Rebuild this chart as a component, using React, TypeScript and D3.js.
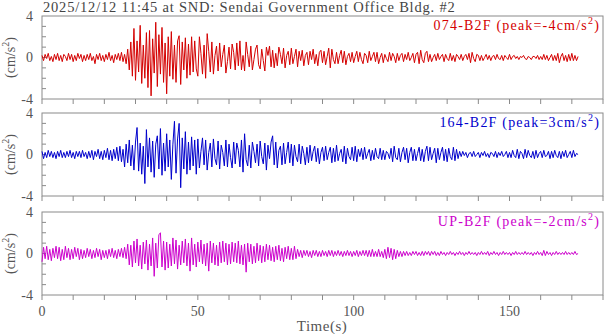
import * as d3 from "d3";

// sampling interval of the traces (s)
const dt = 0.5;

// 074-B2F, t = 0 .. 49.5 s
const ns0 = [
  0.2, -0.3, 0.3, -0.1, 0.4, -0.3, 0.1, -0.4, 0.3, -0.2,
  0.4, -0.3, 0.2, -0.4, 0.3, 0.1, -0.3, 0.4, -0.2, 0.3,
  -0.4, 0.2, -0.3, 0.4, -0.1, 0.3, -0.4, 0.2, -0.3, 0.3,
  -0.2, 0.4, -0.3, 0.1, -0.6, 0.3, -0.2, 0.4, -0.3, 0.2,
  -0.4, 0.3, -0.2, 0.5, -0.3, 0.2, -0.5, 0.3, -0.2, 0.4,
  -0.3, 0.5, -0.4, 0.3, -0.6, 0.8, -1.2, 1.5,
  -1.8, 2.8, -2.2, 1.6, -1.4, 3.1, -2.5, 1.2, -2.0, 2.4,
  -2.9, 2.6, -3.7, 1.8, -1.5, 3.4, -2.8, 2.2, -1.6, 2.9,
  -2.4, 1.4, -3.5, 2.0, -1.8, 2.5, -2.1, 1.2, -2.4, 1.6,
  2.1, -2.6, 1.5, -1.2, 1.9, -2.0, 1.3, -1.7, 2.0, -1.4,
  1.6, -1.1,
];
// 074-B2F, t = 50 .. 99.5 s
const ns1 = [
  -1.8, 2.0, 0.4, -1.6, 1.2, -2.0, 2.3, 0.6, -1.4, 1.5,
  -1.6, 0.2, 1.1, -1.3, 1.4, -0.9, 0.3, 1.2, -1.5, -0.4,
  1.0, -1.1, 1.3, 0.5, -1.2, 1.4, -0.8, 1.6, -1.2, 0.2,
  -1.3, 1.5, 0.3, -0.9, 1.1, -1.2, -0.2, 0.8, 1.2, -0.7,
  -1.1, 0.8, -0.3, -1.3, 1.0, 0.2, 1.1, -0.9, 0.7, -1.0,
  0.4, -0.8, 1.0, 0.3, -0.6, 0.9, -1.0, 0.2, 0.6, -0.7,
  0.9, -0.6, 0.1, 0.8, -0.9, 0.6, -0.3, 0.7, -0.8, 0.2,
  0.5, -0.7, 0.6, -0.2, 0.8, -0.6, 0.3, -0.8, 0.5, 0.7,
  -0.5, 0.6, -0.7, 0.1, 0.9, -1.0, 0.8, -0.2, -0.6, 0.5,
  -0.6, 0.2, 0.7, -0.5, 0.6, -0.7, 0.1, 0.4, -0.4, 0.5,
];
// 074-B2F, t = 100 .. 172 s
const ns2 = [
  -0.5, 0.1, 0.6, -0.4, 0.5, -0.2, -0.6, 0.4, 0.2, -0.5,
  0.6, -0.3, 0.1, 0.5, -0.4, 0.5, -0.6, 0.0, 0.4, -0.5,
  0.3, -0.1, -0.4, 0.5, -0.3, 0.4, 0.1, -0.5, 0.4, -0.3,
  0.2, 0.4, -0.4, 0.3, -0.2, 0.5, -0.3, 0.0, 0.4, -0.5,
  0.3, 0.5, -0.6, 0.7, -0.2, -0.5, 0.4, 0.6, -0.4, 0.3,
  -0.4, 0.0, 0.3, -0.3, 0.4, -0.2, 0.1, 0.3, -0.4, 0.3,
  -0.1, -0.3, 0.4, -0.3, 0.2, -0.4, 0.3, 0.1, -0.2, 0.3,
  -0.3, 0.1, 0.3, -0.2, 0.4, -0.5, 0.5, -0.1, -0.4, 0.3,
  0.2, -0.3, 0.2, -0.3, 0.0, 0.3, -0.2, 0.2, -0.3, 0.1,
  0.2, -0.2, 0.3, -0.1, -0.2, 0.2, -0.3, 0.2, 0.0, -0.2,
  0.3, -0.2, 0.1, 0.2, -0.1, 0.1, -0.2, 0.1, 0.0, 0.2,
  -0.1, -0.2, 0.1, 0.0, -0.2, 0.1, 0.1, -0.1, 0.2, -0.2,
  0.1, -0.2, 0.3, -0.2, 0.2, -0.3, 0.0, 0.3, -0.3, 0.2,
  -0.3, 0.4, -0.5, 0.1, 0.4, -0.3, 0.2, -0.4, 0.3, -0.3,
  0.4, -0.3, 0.2, -0.3, 0.1,
];

// 164-B2F
const ew0 = [
  0.3, -0.4, 0.2, -0.3, 0.4, -0.2, 0.3, -0.3, 0.2, -0.4,
  0.3, -0.2, 0.4, -0.3, 0.2, -0.3, 0.3, -0.2, 0.4, -0.3,
  0.2, -0.4, 0.3, -0.2, 0.3, -0.3, 0.4, -0.2, 0.2, -0.4,
  0.3, -0.3, 0.4, -0.5, 0.3, -0.2, 0.5, -0.4, 0.3, -0.5,
  0.4, -0.3, 0.6, -0.5, 0.4, -0.6, 0.5, -0.4, 0.7, -0.6,
  0.8, -0.7, 0.5, -1.2, 1.0, -0.8, 1.4, -1.1, 0.9, -1.5,
  1.2, 2.6, -1.6, 1.1, -1.9, 0.8, -2.8, 2.4, -1.2, 1.6,
  -1.7, 1.3, -2.2, 1.0, 1.8, -1.4, 2.5, -2.0, 1.1, -1.6,
  2.0, -1.2, 1.4, -2.4, 1.0, 3.2, -1.8, 1.5, 3.0, -3.2,
  1.6, -1.4, 2.2, -1.9, 1.2, -1.5, 1.7, -1.1, 1.4, -1.9,
];
const ew1 = [
  1.5, -1.3, 0.3, 1.6, -1.0, 1.4, -1.5, 0.2, 1.1, -1.2,
  1.5, -0.4, -1.0, 1.3, -1.4, 0.9, 0.2, -1.1, 1.4, -1.2,
  1.0, -0.3, -1.3, 1.2, -0.9, 1.1, 0.4, -1.2, 1.4, -1.7,
  2.0, -0.5, -1.1, 0.9, -1.3, 1.2, 0.3, -0.8, 1.0, -1.1,
  1.3, -0.2, -0.9, 1.1, -1.5, 0.9, -0.4, 1.2, 1.8, -1.0,
  1.2, -1.3, 0.4, 0.8, -1.0, 1.1, -0.9, 0.2, 1.2, -0.8,
  1.0, -1.1, 0.9, -0.2, -0.7, 1.0, -0.9, 0.8, 0.1, -1.0,
  0.7, -0.8, 0.9, -0.6, 0.3, 0.8, -0.7, 0.6, -0.9, 0.2,
  0.7, -0.6, 0.8, -0.5, 0.2, 0.7, -0.8, 0.6, -0.7, 0.9,
  -0.6, 0.1, 0.5, -0.7, 0.8, -0.9, 0.6, -0.2, -0.5, 0.7,
];
const ew2 = [
  -0.6, 0.8, -0.7, 0.5, -0.2, 0.6, -0.5, 0.7, -0.4, 0.1,
  0.5, -0.6, 0.4, -0.5, 0.6, -0.2, -0.4, 0.6, -0.5, 0.4,
  -0.5, 0.3, 0.1, -0.4, 0.6, -0.7, 0.8, -0.3, -0.5, 0.6,
  -0.7, 0.2, 0.7, -0.5, 0.6, -0.8, 0.2, 0.7, -0.6, 0.5,
  -0.6, 0.1, 0.7, -0.6, 0.5, -0.7, 0.3, 0.8, -0.6, 0.7,
  -0.5, 0.1, 0.6, -0.8, 0.6, -0.5, 0.2, 0.7, -0.6, 0.5,
  -0.7, 0.6, -0.2, -0.5, 0.7, -0.6, 0.5, -0.4, 0.3, -0.2,
  0.3, -0.1, 0.2, -0.3, 0.1, 0.2, -0.2, 0.3, -0.2, 0.0,
  0.2, -0.3, 0.2, -0.1, 0.3, -0.2, 0.1, -0.3, 0.2, 0.1,
  -0.2, 0.3, -0.3, 0.2, -0.1, 0.3, -0.2, 0.0, 0.3, -0.3,
  0.2, -0.3, 0.4, -0.1, -0.3, 0.5, -0.4, 0.3, 0.1, -0.4,
  0.5, -0.3, 0.4, -0.1, -0.3, 0.3, -0.4, 0.4, -0.3, 0.1,
  0.3, -0.3, 0.4, -0.2, -0.1, 0.3, -0.4, 0.3, -0.3, 0.4,
  -0.1, -0.3, 0.3, -0.4, 0.3, -0.2, 0.4, -0.3, 0.0, 0.3,
  -0.3, 0.4, -0.2, 0.1, 0.0,
];

// UP-B2F
const ud0 = [
  -0.8, 0.6, -0.5, 0.7, -0.6, 0.4, -0.7, 0.5, -0.4, 0.7,
  -0.5, 0.6, -0.7, 0.4, -0.6, 0.7, -0.4, 0.5, -0.6, 0.4,
  -0.5, 0.6, -0.3, 0.5, -0.6, 0.4, -0.5, 0.3, -0.4, 0.5,
  -0.3, 0.4, -0.5, 0.3, -0.4, 0.5, -0.3, 0.4, -0.6, 0.3,
  -0.4, 0.3, -0.5, 0.4, -0.3, 0.5, -0.4, 0.3, -0.5, 0.4,
  -0.3, 0.5, -0.4, 0.6, -0.5, 0.9, -1.1, 0.8, -1.3, 1.2,
  -0.9, 1.4, -1.2, 0.8, -1.5, 1.1, -1.0, 1.3, -1.6, 0.9,
  -1.2, 1.5, -2.2, 1.0, -1.4, 1.8, 2.0, -1.3, 1.2, -1.6,
  1.1, -1.4, 0.9, -1.2, 1.5, -1.0, 1.3, -1.5, 0.8, -1.1,
  1.2, -0.9, 1.4, -1.2, 1.0, -1.7, 1.5, -1.1, 0.9, -1.3,
];
const ud1 = [
  1.1, -0.8, 1.3, -1.0, 0.9, -1.2, 1.0, -1.7, 1.2, -0.9,
  1.0, -1.1, 0.8, -1.2, 1.1, -0.9, 1.2, -0.8, 1.0, -1.1,
  0.9, -1.0, 1.1, -0.8, 1.0, -0.9, 1.2, -1.0, 0.8, -1.1,
  0.9, -1.8, 1.0, -0.8, 0.9, -1.0, 0.7, -0.9, 1.0, -0.7,
  0.8, -0.9, 0.7, -0.8, 0.9, -0.6, 0.8, -0.7, 0.6, -0.8,
  0.7, -0.6, 0.8, -0.7, 0.5, -0.8, 0.6, -0.5, 0.7, -0.6,
  0.5, -0.6, 0.7, -0.5, 0.4, -0.3, 0.3, -0.4, 0.3, -0.2,
  0.3, -0.3, 0.2, -0.4, 0.3, -0.2, 0.3, -0.3, 0.2, -0.3,
  0.3, -0.2, 0.2, -0.3, 0.3, -0.2, 0.3, -0.3, 0.2, -0.2,
  0.3, -0.2, 0.2, -0.3, 0.2, -0.2, 0.3, -0.2, 0.2, -0.3,
];
const ud2 = [
  0.2, -0.2, 0.3, -0.3, 0.2, -0.2, 0.3, -0.2, 0.3, -0.3,
  0.3, -0.3, 0.4, -0.3, 0.2, -0.3, 0.4, -0.3, 0.2, -0.4,
  0.4, -0.5, 0.6, -0.4, 0.5, -0.6, 0.4, -0.5, 0.3, -0.3,
  0.2, -0.3, 0.2, -0.2, 0.2, -0.2, 0.1, -0.2, 0.2, -0.1,
  0.2, -0.2, 0.1, -0.2, 0.2, -0.2, 0.2, -0.1, 0.2, -0.2,
  0.2, -0.1, 0.2, -0.2, 0.1, -0.2, 0.2, -0.1, 0.1, -0.2,
  0.1, -0.1, 0.2, -0.1, 0.1, -0.2, 0.1, -0.1, 0.2, -0.1,
  0.1, -0.2, 0.1, -0.1, 0.2, -0.1, 0.1, -0.1, 0.1, -0.2,
  0.1, -0.1, 0.2, -0.1, 0.1, -0.1, 0.2, -0.2, 0.1, -0.1,
  0.2, -0.1, 0.1, -0.2, 0.1, -0.1, 0.2, -0.1, 0.1, -0.1,
  0.1, -0.2, 0.1, -0.1, 0.2, -0.1, 0.1, -0.1, 0.1, -0.1,
  0.2, -0.1, 0.1, -0.1, 0.1, -0.2, 0.1, -0.1, 0.2, -0.1,
  0.1, -0.2, 0.3, -0.2, 0.2, -0.1, 0.1, -0.2, 0.1, -0.1,
  0.2, -0.1, 0.1, -0.1, 0.1, -0.1, 0.2, -0.1, 0.1, -0.1,
  0.1, -0.1, 0.2, -0.1, 0.0,
];

const title = "2025/12/12 11:45 at SND: Sendai Government Office Bldg. #2";
const channels = ["074-B2F", "164-B2F", "UP-B2F"];
const peaks = ["-4", "3", "-2"];
const colors = ["#d40000", "#0000cc", "#cc00cc"];
const traces = [
  [...ns0, ...ns1, ...ns2],
  [...ew0, ...ew1, ...ew2],
  [...ud0, ...ud1, ...ud2],
];
const xTickLabels = [0, 50, 100, 150];
const yTickLabels = [4, 0, -4];

const W = 605;
const H = 334;
const panelTops = [16, 113, 212];
const panelH = 83;
const left = 42;
const right = 603;
const gray = "#8a8a8a";
const textGray = "#555";
const font = "'Liberation Serif', 'Times New Roman', serif";

const x = d3.scaleLinear().domain([0, 180]).range([left, right]);

const Panel = ({ idx }: { idx: number }) => {
  const top = panelTops[idx];
  const y = d3.scaleLinear().domain([-4, 4]).range([top + panelH, top]);
  const line = d3
    .line<number>()
    .x((_, i) => x(i * dt))
    .y((d) => y(d));
  const minorX = d3.range(0, 181, 10);
  const minorY = d3.range(-3, 4, 1);
  return (
    <g>
      <rect
        x={left}
        y={top}
        width={right - left}
        height={panelH}
        fill="none"
        stroke={gray}
        strokeWidth={1}
      />
      {minorX.map((t) => (
        <line
          key={"xt" + t}
          x1={x(t)}
          x2={x(t)}
          y1={top + panelH}
          y2={top + panelH + 5}
          stroke={gray}
        />
      ))}
      {minorY.map((v) => (
        <line
          key={"yt" + v}
          x1={left}
          x2={left + 4}
          y1={y(v)}
          y2={y(v)}
          stroke={gray}
        />
      ))}
      {yTickLabels.map((v) => (
        <text
          key={"yl" + v}
          x={33}
          y={y(v)}
          dy="0.35em"
          textAnchor="end"
          fontSize={14}
          fill={textGray}
        >
          {v}
        </text>
      ))}
      <text
        transform={`translate(15,${y(0)}) rotate(-90)`}
        textAnchor="middle"
        fontSize={14}
        fill={textGray}
      >
        (cm/s
        <tspan dy={-6} fontSize={10}>
          2
        </tspan>
        <tspan dy={6}>)</tspan>
      </text>
      <path
        d={line(traces[idx]) || ""}
        fill="none"
        stroke={colors[idx]}
        strokeWidth={1}
        strokeLinejoin="round"
      />
      <text
        x={600}
        y={top + 14}
        textAnchor="end"
        fontSize={14}
        fill={colors[idx]}
        letterSpacing={1.2}
      >
        {`${channels[idx]} (peak=${peaks[idx]}cm/s`}
        <tspan dy={-6} fontSize={10}>
          2
        </tspan>
        <tspan dy={6}>)</tspan>
      </text>
    </g>
  );
};

export default function App() {
  return (
    <svg
      width={W}
      height={H}
      style={{ position: "absolute", left: 0, top: 0, background: "#fff" }}
      fontFamily={font}
    >
      <text x={43} y={12} fontSize={14.5} fill="#444" letterSpacing={0.8}>
        {title}
      </text>
      {channels.map((_, i) => (
        <Panel key={i} idx={i} />
      ))}
      {xTickLabels.map((t) => (
        <text
          key={t}
          x={x(t)}
          y={316}
          textAnchor="middle"
          fontSize={14}
          fill={textGray}
        >
          {t}
        </text>
      ))}
      <text x={322} y={331} textAnchor="middle" fontSize={15} fill={textGray} letterSpacing={0.5}>
        Time(s)
      </text>
    </svg>
  );
}
